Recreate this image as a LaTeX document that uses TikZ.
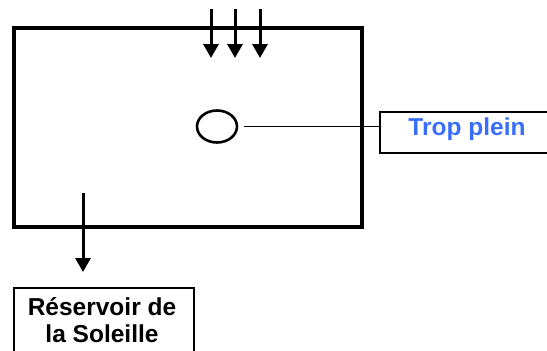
\documentclass[tikz,border=0pt]{standalone}
\usepackage{fontspec}
\setmainfont{Liberation Sans}
\usetikzlibrary{arrows.meta,shapes.geometric}
\definecolor{labelblue}{RGB}{58,110,250}
\tikzset{
  tank/.style={draw=black,line width=3.2pt},
  flow/.style={line width=3pt,-{Triangle[length=14pt,width=15pt]}},
  labelbox/.style={draw=black,line width=1.8pt,inner sep=0pt},
  lead/.style={line width=1.6pt}
}
\begin{document}
\begin{tikzpicture}[x=1pt,y=-1pt]
\useasboundingbox (0,0) rectangle (547,351);
% tank
\node[tank,minimum width=348pt,minimum height=199pt,inner sep=0pt] (tank) at (188,127.5) {};
% inflow arrows
\coordinate (s1) at (211,9);
\coordinate (e1) at (211,58);
\coordinate (s2) at (235,9);
\coordinate (e2) at (235,58);
\coordinate (s3) at (260,9);
\coordinate (e3) at (260,58);
\draw[flow] (s1) -- (e1);
\draw[flow] (s2) -- (e2);
\draw[flow] (s3) -- (e3);
% overflow hole
\node[draw,line width=2.6pt,ellipse,minimum width=40pt,minimum height=32pt,inner sep=0pt] (hole) at (217,126.5) {};
% trop plein box
\node[labelbox,anchor=north west,minimum width=190pt,minimum height=41pt] (trop) at (379,111) {};
\node[text=labelblue,font=\bfseries\fontsize{24.5}{27}\selectfont] (troptxt) at (467,129) {Trop plein};
\coordinate (leadend) at (trop.west |- hole.east);
\draw[lead] ([xshift=6pt]hole.east) -- (leadend);
% outflow
\coordinate (o1) at (83,193);
\coordinate (o2) at (83,272);
\draw[flow] (o1) -- (o2);
\node[labelbox,anchor=north west,minimum width=180pt,minimum height=80pt] (res) at (13,287) {};
\node[font=\bfseries\fontsize{24.5}{27}\selectfont,align=center,anchor=north] (restxt) at (102,293.5) {Réservoir de\\la Soleille};
\end{tikzpicture}
\end{document}
